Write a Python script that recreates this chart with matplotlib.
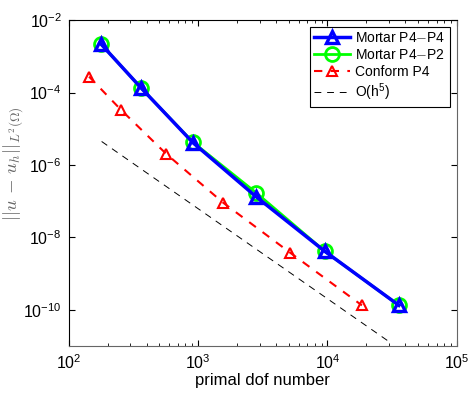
import matplotlib
matplotlib.use("Agg")
import matplotlib.pyplot as plt
from matplotlib.ticker import LogLocator, NullFormatter, FixedLocator, NullLocator

plt.rcParams["font.family"] = ["Liberation Sans", "DejaVu Sans"]
plt.rcParams["mathtext.fontset"] = "cm"

# data
dof_p4p4 = [178, 363, 915, 2805, 9570, 35650]
err_p4p4 = [2.18e-3, 1.34e-4, 4.09e-6, 1.33e-7, 4.07e-9, 1.32e-10]

dof_p4p2 = [178, 363, 915, 2805, 9570, 35650]
err_p4p2 = [2.18e-3, 1.34e-4, 4.2e-6, 1.71e-7, 4.07e-9, 1.32e-10]

dof_conf = [144, 254, 566, 1560, 5130, 18460]
err_conf = [2.74e-4, 3.32e-5, 2.04e-6, 9.1e-8, 3.8e-9, 1.32e-10]

dof_ref = [180, 30400]
err_ref = [4.44e-6, 1.26e-11]

fig = plt.figure(figsize=(4.73, 3.94), dpi=100)
ax = fig.add_axes([0.145, 0.122, 0.821, 0.827])

ax.loglog(dof_p4p2, err_p4p2, "-o", color="#00ff00", lw=2, ms=10,
          mfc="none", mew=2, label="Mortar P4$-$P2", zorder=3)
ax.loglog(dof_p4p4, err_p4p4, "-^", color="#0000ff", lw=2.5, ms=8,
          mfc="none", mew=2.4, label="Mortar P4$-$P4", zorder=4)
ax.loglog(dof_conf, err_conf, "--^", color="#ff0000", lw=1.5, ms=7,
          mfc="none", mew=1.5, dashes=(4, 4), label="Conform P4", zorder=2)
ax.loglog(dof_ref, err_ref, "--", color="black", lw=0.7, dashes=(7, 6),
          label="$\\mathdefault{O(h^5)}$", zorder=1)

ax.set_xlim(1e2, 1e5)
ax.set_ylim(1e-11, 1e-2)

ax.xaxis.set_major_locator(LogLocator(base=10, numticks=10))
ax.xaxis.set_minor_locator(LogLocator(base=10, subs=range(2, 10), numticks=20))
ax.xaxis.set_minor_formatter(NullFormatter())
ax.yaxis.set_major_locator(FixedLocator([1e-10, 1e-8, 1e-6, 1e-4, 1e-2]))
ax.yaxis.set_minor_locator(NullLocator())

ax.tick_params(which="both", direction="in", top=True, right=True)
ax.tick_params(which="major", length=4, labelsize=11.5, pad=5)
ax.tick_params(which="minor", length=2)
for s in ax.spines.values():
    s.set_linewidth(0.8)
ax.spines["right"].set_color("#666666")
ax.spines["bottom"].set_color("#666666")

ax.set_xlabel("primal dof number", fontsize=12, labelpad=1)
ax.set_ylabel("$||u\\,-\\,u_h||_{L^2(\\Omega)}$", fontsize=13.5, color="#666666")
ax.yaxis.set_label_coords(-0.112, 0.56)

h, l = ax.get_legend_handles_labels()
order = [1, 0, 2, 3]
leg = ax.legend([h[i] for i in order], [l[i] for i in order], loc="upper right",
                fontsize=10, fancybox=False, edgecolor="black", framealpha=1,
                borderaxespad=0.5, handlelength=2.6, handletextpad=0.4,
                borderpad=0.3, labelspacing=0.2)
leg.get_frame().set_linewidth(0.8)

fig.savefig("out.png", dpi=100)
